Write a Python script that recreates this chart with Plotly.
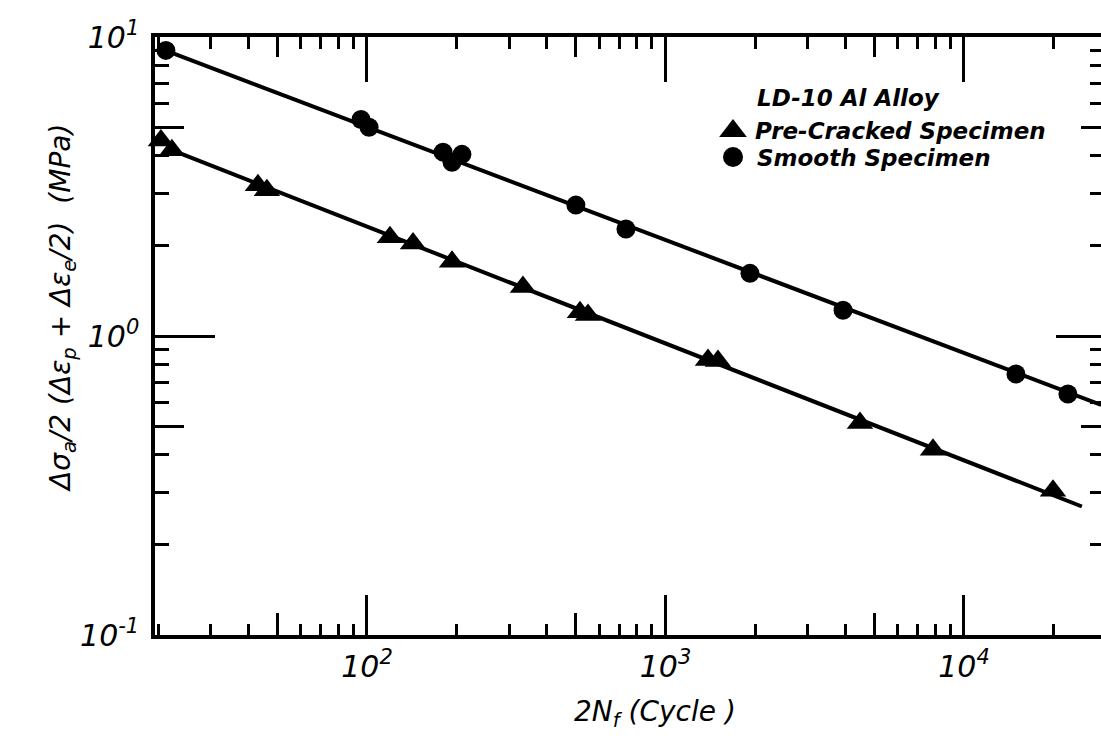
import plotly.graph_objects as go

# ---- data ----
smooth_cycles = [21.2, 95.5, 101.6, 179.8, 192.7, 208, 501, 737, 1919, 3933, 14930, 22290]
smooth_stress = [9.02, 5.30, 4.99, 4.12, 3.81, 4.05, 2.74, 2.28, 1.62, 1.22, 0.746, 0.640]

precracked_cycles = [20.4, 22.2, 43.1, 46.2, 119.4, 142.6, 192.7, 333, 517, 550,
                     1388, 1499, 4483, 7873, 19870]
precracked_stress = [4.51, 4.18, 3.19, 3.07, 2.14, 2.04, 1.77, 1.458, 1.20, 1.175,
                     0.832, 0.825, 0.512, 0.4163, 0.3038]

# fitted straight lines (end points)
smooth_fit_cycles = [21.2, 28800]
smooth_fit_stress = [9.0, 0.588]
precracked_fit_cycles = [23.1, 24830]
precracked_fit_stress = [4.12, 0.269]

x_major = [100, 1000, 10000]
x_major_text = ["10<sup>2</sup>", "10<sup>3</sup>", "10<sup>4</sup>"]
y_major = [0.1, 1, 10]
y_major_text = ["10<sup>-1</sup>", "10<sup>0</sup>", "10<sup>1</sup>"]

legend_title = "LD-10 Al Alloy"
name_pre = "Pre-Cracked Specimen"
name_smooth = "Smooth Specimen"
x_title = "2N<sub>f</sub> (Cycle )"
y_title = "Δσ<sub>a</sub>/2 (Δε<sub>p</sub> + Δε<sub>e</sub>/2)  (MPa)"

# ---- axis tick structure ----
x_lo, x_hi = 1.2898, 4.459
y_lo, y_hi = -1.0, 1.0
x_minor = [d * k for d in (10, 100, 1000, 10000) for k in (2, 3, 4, 6, 7, 8, 9)
           if 10 ** x_lo <= d * k <= 10 ** x_hi]
x_five = [50, 500, 5000]
y_minor = [d * k for d in (0.1, 1) for k in (2, 3, 4, 6, 7, 8, 9)]
y_five = [0.5, 5]

FONT = "DejaVu Sans"
BLACK = "#000000"
W, H = 1101, 736
L, R, T, B = 155, 0, 37, 101
PW, PH = W - L - R, H - T - B


def px(xp):
    return (xp - L) / PW


def py(yp):
    return (H - B - yp) / PH


fig = go.Figure()

fig.add_trace(go.Scatter(x=smooth_fit_cycles, y=smooth_fit_stress, mode="lines",
                         line=dict(color=BLACK, width=4), showlegend=False, hoverinfo="skip"))
fig.add_trace(go.Scatter(x=precracked_fit_cycles, y=precracked_fit_stress, mode="lines",
                         line=dict(color=BLACK, width=4), showlegend=False, hoverinfo="skip"))
fig.add_trace(go.Scatter(x=precracked_cycles, y=precracked_stress, mode="markers",
                         name=name_pre, showlegend=False,
                         marker=dict(symbol="triangle-up", size=23, color=BLACK),
                         cliponaxis=False))
fig.add_trace(go.Scatter(x=smooth_cycles, y=smooth_stress, mode="markers",
                         name=name_smooth, showlegend=False,
                         marker=dict(symbol="circle", size=19, color=BLACK),
                         cliponaxis=False))

# dummy traces to register the overlay axes
for xa, ya in (("x2", "y"), ("x3", "y"), ("x4", "y"), ("x", "y2"), ("x", "y3"), ("x", "y4")):
    fig.add_trace(go.Scatter(x=[], y=[], xaxis=xa, yaxis=ya, showlegend=False, hoverinfo="skip"))

# legend keys on a hidden 0..1 overlay axis pair
fig.add_trace(go.Scatter(x=[px(733)], y=[py(131)], xaxis="x5", yaxis="y5", mode="markers",
                         marker=dict(symbol="triangle-up", size=24, color=BLACK),
                         showlegend=False, hoverinfo="skip", cliponaxis=False))
fig.add_trace(go.Scatter(x=[px(733)], y=[py(157)], xaxis="x5", yaxis="y5", mode="markers",
                         marker=dict(symbol="circle", size=20, color=BLACK),
                         showlegend=False, hoverinfo="skip", cliponaxis=False))

tickfont = dict(family=FONT, size=30, color=BLACK, style="italic")
legfont = dict(family=FONT, size=23, color=BLACK, style="italic", weight="bold")

common_x = dict(type="log", range=[x_lo, x_hi], showgrid=False, zeroline=False,
                tickcolor=BLACK, tickwidth=2.5, ticks="inside")
common_y = dict(type="log", range=[y_lo, y_hi], showgrid=False, zeroline=False,
                tickcolor=BLACK, tickwidth=2.5, ticks="inside")

fig.update_layout(
    width=W, height=H,
    margin=dict(l=L, r=R, t=T, b=B),
    paper_bgcolor="white", plot_bgcolor="white",
    showlegend=False,
    xaxis=dict(**common_x, tickmode="array", tickvals=x_major, ticktext=x_major_text,
               ticklen=40, showline=True, linecolor=BLACK, linewidth=3.5,
               tickfont=tickfont, ticklabelstandoff=2,
               minor=dict(tickmode="array", tickvals=x_minor, ticklen=11,
                          ticks="inside", tickcolor=BLACK, tickwidth=2.5, showgrid=False)),
    xaxis2=dict(**common_x, overlaying="x", anchor="y", side="bottom",
                tickmode="array", tickvals=x_five, ticklen=22,
                showticklabels=False, showline=False),
    xaxis3=dict(**common_x, overlaying="x", anchor="y", side="top",
                tickmode="array", tickvals=x_major, ticklen=45,
                showticklabels=False, showline=True, linecolor=BLACK, linewidth=3.5,
                minor=dict(tickmode="array", tickvals=x_minor, ticklen=12,
                           ticks="inside", tickcolor=BLACK, tickwidth=2.5, showgrid=False)),
    xaxis4=dict(**common_x, overlaying="x", anchor="y", side="top",
                tickmode="array", tickvals=x_five, ticklen=20,
                showticklabels=False, showline=False),
    xaxis5=dict(overlaying="x", anchor="y5", range=[0, 1], visible=False, fixedrange=True),
    yaxis=dict(**common_y, tickmode="array", tickvals=y_major, ticktext=y_major_text,
               ticklen=60, showline=True, linecolor=BLACK, linewidth=3.5,
               tickfont=tickfont, ticklabelstandoff=6,
               minor=dict(tickmode="array", tickvals=y_minor, ticklen=14,
                          ticks="inside", tickcolor=BLACK, tickwidth=2.5, showgrid=False)),
    yaxis2=dict(**common_y, overlaying="y", anchor="x", side="left",
                tickmode="array", tickvals=y_five, ticklen=29,
                showticklabels=False, showline=False),
    yaxis3=dict(**common_y, overlaying="y", anchor="x", side="right",
                tickmode="array", tickvals=y_major, ticklen=45,
                showticklabels=False, showline=False,
                minor=dict(tickmode="array", tickvals=y_minor, ticklen=11,
                           ticks="inside", tickcolor=BLACK, tickwidth=2.5, showgrid=False)),
    yaxis4=dict(**common_y, overlaying="y", anchor="x", side="right",
                tickmode="array", tickvals=y_five, ticklen=20,
                showticklabels=False, showline=False),
    yaxis5=dict(overlaying="y", anchor="x5", range=[0, 1], visible=False, fixedrange=True),
    annotations=[
        dict(text=legend_title, xref="paper", yref="paper",
             x=px(755), y=py(98), xanchor="left", yanchor="middle",
             showarrow=False, font=legfont),
        dict(text=name_pre, xref="paper", yref="paper",
             x=px(753), y=py(131), xanchor="left", yanchor="middle",
             showarrow=False, font=legfont),
        dict(text=name_smooth, xref="paper", yref="paper",
             x=px(755), y=py(158), xanchor="left", yanchor="middle",
             showarrow=False, font=legfont),
        dict(text=x_title, xref="paper", yref="paper",
             x=px(655), y=py(713), xanchor="center", yanchor="middle",
             showarrow=False, font=dict(family=FONT, size=28, color=BLACK, style="italic")),
        dict(text=y_title, xref="paper", yref="paper", textangle=-90,
             x=px(62), y=py(308), xanchor="center", yanchor="middle",
             showarrow=False, font=dict(family=FONT, size=28, color=BLACK, style="italic")),
    ],
)

fig.write_html("out.html", config={"displayModeBar": False},
               post_script="document.body.style.margin='0px';"
               "document.body.style.overflow='hidden';")
